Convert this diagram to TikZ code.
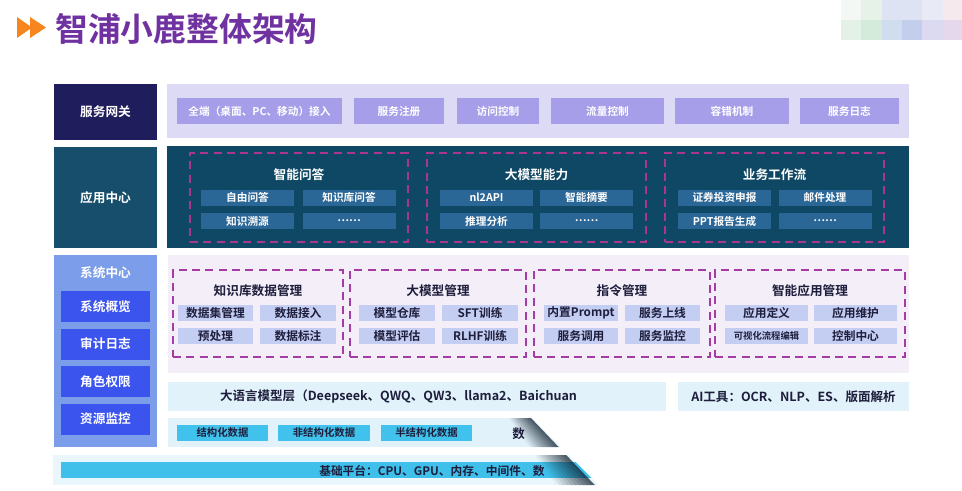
\documentclass[tikz,border=0pt]{standalone}
\usepackage{fontspec}
\setmainfont{Noto Sans CJK SC}[BoldFont={Noto Sans CJK SC Bold}]
\usepackage{tikz}
\usetikzlibrary{positioning}

\definecolor{titlePurple}{RGB}{112,50,160}
\definecolor{titleOrange}{RGB}{247,134,30}
\definecolor{gateDark}{RGB}{31,29,92}
\definecolor{gateBg}{RGB}{221,218,246}
\definecolor{gateItem}{RGB}{166,158,232}
\definecolor{appDark}{RGB}{22,78,107}
\definecolor{appBg}{RGB}{14,72,100}
\definecolor{appItem}{RGB}{43,103,150}
\definecolor{appDash}{RGB}{170,55,140}
\definecolor{sysPanel}{RGB}{124,157,234}
\definecolor{sysBtn}{RGB}{60,84,238}
\definecolor{mgmtBg}{RGB}{244,238,248}
\definecolor{mgmtDash}{RGB}{165,60,165}
\definecolor{mgmtItem}{RGB}{196,206,243}
\definecolor{darkText}{RGB}{30,30,60}
\definecolor{llmBg}{RGB}{226,242,250}
\definecolor{dataItem}{RGB}{64,194,236}
\definecolor{baseBg}{RGB}{233,246,251}
\definecolor{baseBar}{RGB}{62,192,234}
\definecolor{curlShade}{RGB}{15,30,45}
% faded mosaic, top right
\definecolor{mzA}{RGB}{243,248,244}
\definecolor{mzB}{RGB}{230,242,232}
\definecolor{mzC}{RGB}{221,227,242}
\definecolor{mzD}{RGB}{221,227,242}
\definecolor{mzE}{RGB}{232,234,246}
\definecolor{mzF}{RGB}{245,233,238}
\definecolor{mzG}{RGB}{228,241,230}
\definecolor{mzH}{RGB}{212,234,219}
\definecolor{mzI}{RGB}{208,221,239}
\definecolor{mzJ}{RGB}{194,206,235}
\definecolor{mzK}{RGB}{220,218,240}
\definecolor{mzL}{RGB}{229,216,236}

\begin{document}
\begin{tikzpicture}[x=0.75pt,y=-0.75pt,
  sz/.style args={#1/#2}{minimum width=#1*0.75pt,minimum height=#2*0.75pt},
  panel/.style={inner sep=0pt,text=white,font=\bfseries\fontsize{9.5}{11}\selectfont},
  gate item/.style={fill=gateItem,inner sep=0pt,text=white,
    font=\bfseries\fontsize{8}{9}\selectfont},
  app item/.style={fill=appItem,inner sep=0pt,text=white,sz=93/16,
    font=\bfseries\fontsize{8}{9}\selectfont},
  group box/.style={draw=#1,dash pattern=on 6pt off 4pt,line width=1.1pt,inner sep=0pt},
  group title/.style={inner sep=0pt,text=#1,font=\bfseries\fontsize{9.5}{11}\selectfont},
  mgmt item/.style={fill=mgmtItem,inner sep=0pt,text=darkText,
    font=\bfseries\fontsize{8.8}{10}\selectfont},
  sys btn/.style={fill=sysBtn,inner sep=0pt,text=white,sz=89/31,
    font=\bfseries\fontsize{9.5}{11}\selectfont},
  data item/.style={fill=dataItem,inner sep=0pt,text=darkText,sz=91/16,
    font=\bfseries\fontsize{7.8}{9}\selectfont},
  plain text/.style={inner sep=0pt,text=darkText,font=\bfseries\fontsize{9.4}{11}\selectfont}]

  \useasboundingbox (0,0) rectangle (962,490);

  % title
  \fill[titleOrange] (17,17) -- (32,27.5) -- (17,38) -- cycle;
  \fill[titleOrange] (30,17) -- (46,27.5) -- (30,38) -- cycle;
  \node[anchor=west,inner sep=0pt,text=titlePurple,
    font=\bfseries\fontsize{24.6}{26}\selectfont] (title) at (55,29) {智浦小鹿整体架构};

  \foreach \c [count=\i from 0] in {mzA,mzB,mzC,mzD,mzE,mzF}
    \fill[\c] ({841+20.3*\i},0) rectangle ({861.3+20.3*\i},20);
  \foreach \c [count=\i from 0] in {mzG,mzH,mzI,mzJ,mzK,mzL}
    \fill[\c] ({841+20.3*\i},20) rectangle ({861.3+20.3*\i},40);

  % service gateway
  \node[panel,fill=gateDark,sz=103/56] (gate) at (105.5,112) {服务网关};
  \node[fill=gateBg,inner sep=0pt,sz=742/54] (gatebg) at (538,111) {};
  \node[gate item,sz=165/26] (g1) at (259.5,111) {全端（桌面、PC、移动）接入};
  \node[gate item,sz=90/26] (g2) at (399,111) {服务注册};
  \node[gate item,sz=82/26] (g3) at (498,111) {访问控制};
  \node[gate item,sz=113/26] (g4) at (607.5,111) {流量控制};
  \node[gate item,sz=114/26] (g5) at (732,111) {容错机制};
  \node[gate item,sz=99/26] (g6) at (849.5,111) {服务日志};

  % application center
  \node[panel,fill=appDark,sz=103/101] (app) at (105.5,197.5) {应用中心};
  \node[fill=appBg,inner sep=0pt,sz=742/102] (appbg) at (538,197) {};
  \node[group box=appDash,sz=218/89] (qa) at (299,197.5) {};
  \node[group box=appDash,sz=219/89] (llmcap) at (536.5,197.5) {};
  \node[group box=appDash,sz=219/89] (flow) at (774.5,197.5) {};
  \node[group title=white] (qat) at (299,175) {智能问答};
  \node[group title=white] (llmcapt) at (536.5,175) {大模型能力};
  \node[group title=white] (flowt) at (774.5,175) {业务工作流};
  \node[app item] (qa1) at (247.5,197.5) {自由问答};
  \node[app item] (qa2) at (349,197.5) {知识库问答};
  \node[app item] (qa3) at (247.5,221) {知识溯源};
  \node[app item] (qa4) at (349,221) {\dots\dots};
  \node[app item] (lc1) at (486.5,197.5) {nl2API};
  \node[app item] (lc2) at (586.5,197.5) {智能摘要};
  \node[app item] (lc3) at (486.5,221) {推理分析};
  \node[app item] (lc4) at (586.5,221) {\dots\dots};
  \node[app item] (fl1) at (724.5,197.5) {证券投资申报};
  \node[app item] (fl2) at (825,197.5) {邮件处理};
  \node[app item] (fl3) at (724.5,221) {PPT报告生成};
  \node[app item] (fl4) at (825,221) {\dots\dots};

  % system center
  \node[fill=sysPanel,inner sep=0pt,sz=103/192] (sys) at (105.5,351) {};
  \node[panel] (syst) at (105.5,273) {系统中心};
  \node[sys btn] (s1) at (105.5,306.5) {系统概览};
  \node[sys btn] (s2) at (105.5,344) {审计日志};
  \node[sys btn] (s3) at (105.5,381.5) {角色权限};
  \node[sys btn] (s4) at (105.5,419) {资源监控};

  % management layer
  \node[fill=mgmtBg,inner sep=0pt,sz=741/118] (mgmtbg) at (538.5,314) {};
  \node[group box=mgmtDash,sz=170/87] (kb) at (258,313.5) {};
  \node[group box=mgmtDash,sz=176/87] (mdl) at (438,313.5) {};
  \node[group box=mgmtDash,sz=176/87] (ins) at (622,313.5) {};
  \node[group box=mgmtDash,sz=190/87] (apps) at (810,313.5) {};
  \node[group title=darkText] (kbt) at (258,291) {知识库数据管理};
  \node[group title=darkText] (mdlt) at (438,291) {大模型管理};
  \node[group title=darkText] (inst) at (622,291) {指令管理};
  \node[group title=darkText] (appst) at (810,291) {智能应用管理};
  \node[mgmt item,sz=75/16] (kb1) at (215.5,313) {数据集管理};
  \node[mgmt item,sz=76/16] (kb2) at (298,313) {数据接入};
  \node[mgmt item,sz=75/16] (kb3) at (215.5,336) {预处理};
  \node[mgmt item,sz=76/16] (kb4) at (298,336) {数据标注};
  \node[mgmt item,sz=76/16] (md1) at (397,313) {模型仓库};
  \node[mgmt item,sz=76/16] (md2) at (480,313) {SFT训练};
  \node[mgmt item,sz=76/16] (md3) at (397,336) {模型评估};
  \node[mgmt item,sz=76/16] (md4) at (480,336) {RLHF训练};
  \node[mgmt item,sz=74/16] (in1) at (581,313) {内置Prompt};
  \node[mgmt item,sz=75/16] (in2) at (662.5,313) {服务上线};
  \node[mgmt item,sz=74/16] (in3) at (581,336) {服务调用};
  \node[mgmt item,sz=75/16] (in4) at (662.5,336) {服务监控};
  \node[mgmt item,sz=83/16] (ap1) at (766.5,313) {应用定义};
  \node[mgmt item,sz=83/16] (ap2) at (855.5,313) {应用维护};
  \node[mgmt item,sz=83/16,font=\bfseries\fontsize{7}{8}\selectfont] (ap3) at (766.5,336) {可视化流程编辑};
  \node[mgmt item,sz=83/16] (ap4) at (855.5,336) {控制中心};

  % model layer and tools
  \node[fill=llmBg,inner sep=0pt,sz=498/29] (llm) at (417,396.5) {};
  \node[plain text] (llmt) at (398.5,396.5) {大语言模型层（Deepseek、QWQ、QW3、llama2、Baichuan};
  \node[fill=llmBg,plain text,sz=231/29] (tools) at (793.5,396.5) {AI工具：OCR、NLP、ES、版面解析};

  % data layer
  \node[fill=llmBg,inner sep=0pt,sz=741/29] (data) at (538.5,432.5) {};
  \node[data item] (d1) at (222.5,433) {结构化数据};
  \node[data item,sz=92/16] (d2) at (324,433) {非结构化数据};
  \node[data item] (d3) at (426.5,433) {半结构化数据};
  \node[plain text,anchor=west] (dt) at (512,433.5) {数};

  % base platform
  \node[fill=baseBg,inner sep=0pt,sz=856/30] (base) at (481,470) {};
  \node[fill=baseBar,inner sep=0pt,sz=840/16] (basebar) at (481,470) {};
  \node[plain text,anchor=west,font=\bfseries\fontsize{8.8}{10}\selectfont] (baset) at (319,470.5) {基础平台：CPU、GPU、内存、中间件、数};

  % page curl
  \fill[white] (530,416) -- (962,416) -- (962,490) -- (604,490) -- cycle;
  \begin{scope}
    \clip (168,418) rectangle (962,447) (53,455) rectangle (962,485);
    \foreach \k in {0,...,9}
      \fill[curlShade,opacity={0.04+0.075*\k}]
        ({508+2.2*\k},417) -- ({510.2+2.2*\k},417)
        -- ({563.5+4*\k},490) -- ({559.5+4*\k},490) -- cycle;
  \end{scope}
\end{tikzpicture}
\end{document}
